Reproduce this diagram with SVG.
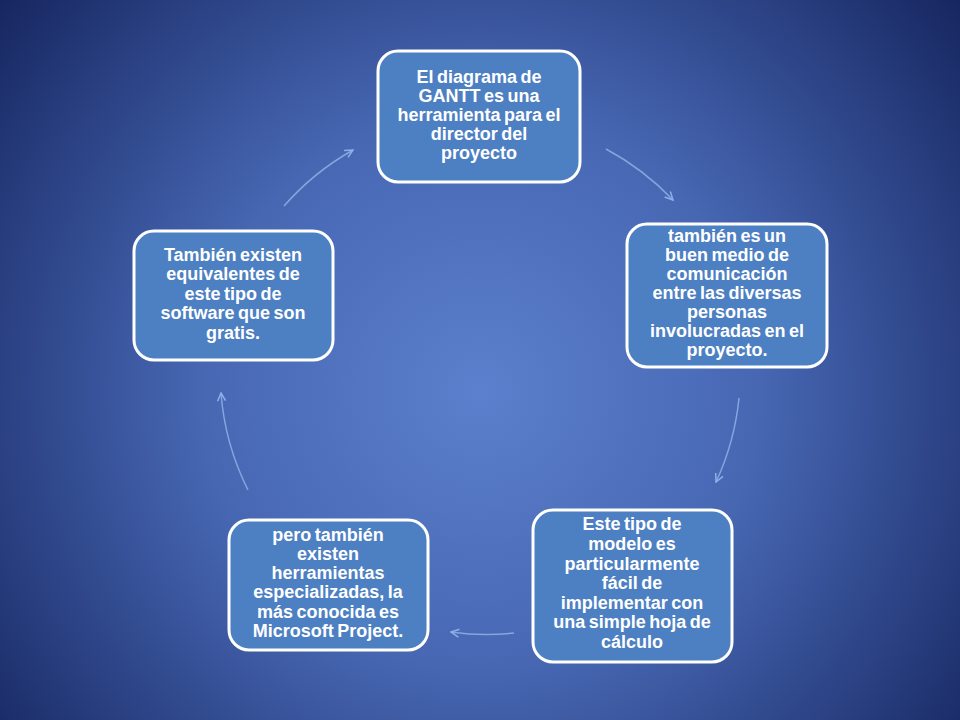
<svg xmlns="http://www.w3.org/2000/svg" width="960" height="720" viewBox="0 0 960 720">
<defs>
<radialGradient id="bg" cx="480" cy="390" r="620" gradientUnits="userSpaceOnUse">
<stop offset="0" stop-color="#5c80cd"/>
<stop offset="0.45" stop-color="#4767b3"/>
<stop offset="1" stop-color="#162660"/>
</radialGradient>
<marker id="ah" viewBox="0 0 10 10" refX="9" refY="5" markerWidth="10" markerHeight="10" markerUnits="userSpaceOnUse" orient="auto">
<path d="M1,1 L9,5 L1,9" fill="none" stroke="#8fb0e6" stroke-width="1.5"/>
</marker>
<style>
.box{fill:#4d80c2;stroke:#ffffff;stroke-width:3}
.t{font-family:"Liberation Sans",Arial,sans-serif;font-weight:bold;font-size:18px;word-spacing:-1.5px;fill:#ffffff;text-anchor:middle}
.c{fill:none;stroke:#8fb0e6;stroke-width:1.5;stroke-opacity:0.85;marker-end:url(#ah)}
</style>
</defs>
<rect width="960" height="720" fill="url(#bg)"/>
<g id="connectors">
<path class="c" d="M284,206 A265,265 0 0 1 353,150"/>
<path class="c" d="M606,149 A265,265 0 0 1 673,200"/>
<path class="c" d="M739,398 A260,260 0 0 1 716,482"/>
<path class="c" d="M514,633 A250,250 0 0 1 451,632"/>
<path class="c" d="M248,490 A260,260 0 0 1 221,393"/>
</g>
<g id="node1">
<rect class="box" x="378" y="51" width="202" height="131" rx="20"/>
<text class="t" x="479"><tspan x="479" y="83">El diagrama de</tspan><tspan x="479" y="102">GANTT es una</tspan><tspan x="479" y="121">herramienta para el</tspan><tspan x="479" y="140">director del</tspan><tspan x="479" y="159">proyecto</tspan></text>
</g>
<g id="node2">
<rect class="box" x="627" y="224" width="200" height="143" rx="20"/>
<text class="t" x="727"><tspan x="727" y="242">también es un</tspan><tspan x="727" y="261">buen medio de</tspan><tspan x="727" y="280">comunicación</tspan><tspan x="727" y="299">entre las diversas</tspan><tspan x="727" y="318">personas</tspan><tspan x="727" y="337">involucradas en el</tspan><tspan x="727" y="356">proyecto.</tspan></text>
</g>
<g id="node3">
<rect class="box" x="533" y="510" width="199" height="152" rx="20"/>
<text class="t" x="632"><tspan x="632" y="530">Este tipo de</tspan><tspan x="632" y="550">modelo es</tspan><tspan x="632" y="570">particularmente</tspan><tspan x="632" y="589">fácil de</tspan><tspan x="632" y="609">implementar con</tspan><tspan x="632" y="628">una simple hoja de</tspan><tspan x="632" y="648">cálculo</tspan></text>
</g>
<g id="node4">
<rect class="box" x="229" y="520" width="199" height="130" rx="20"/>
<text class="t" x="328"><tspan x="328" y="541">pero también</tspan><tspan x="328" y="560">existen</tspan><tspan x="328" y="579">herramientas</tspan><tspan x="328" y="598">especializadas, la</tspan><tspan x="328" y="618">más conocida es</tspan><tspan x="328" y="637">Microsoft Project.</tspan></text>
</g>
<g id="node5">
<rect class="box" x="134" y="231" width="199" height="129" rx="20"/>
<text class="t" x="233"><tspan x="233" y="261">También existen</tspan><tspan x="233" y="280">equivalentes de</tspan><tspan x="233" y="300">este tipo de</tspan><tspan x="233" y="319">software que son</tspan><tspan x="233" y="339">gratis.</tspan></text>
</g>
</svg>
